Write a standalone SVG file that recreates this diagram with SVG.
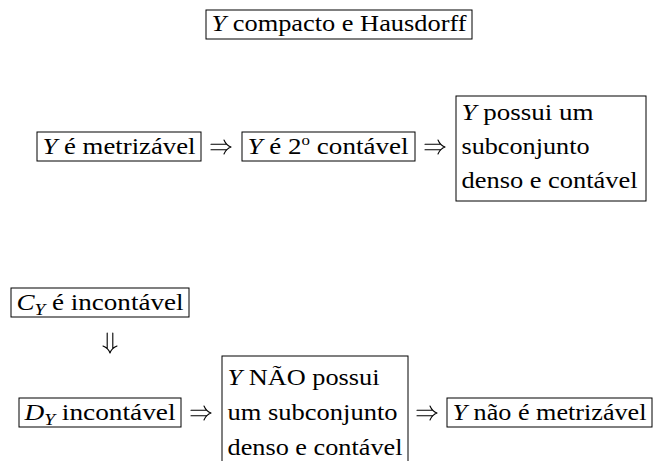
<svg xmlns="http://www.w3.org/2000/svg" xmlns:xlink="http://www.w3.org/1999/xlink" width="656" height="461" viewBox="0 0 656 461">
<style>
.box{fill:none;stroke:#000;stroke-width:1}
.t{font-family:'Liberation Serif','Times New Roman',serif;font-size:24px;fill:#000}
.i{font-style:italic}
.arr{fill:none;stroke:#000;stroke-width:1.1;stroke-linecap:round;stroke-linejoin:round}
</style>
<defs>
<path id="imp" d="M0,-2.8 H15.5 M0,2.8 H15.5 M13,-7 C14.5,-3.5 17,-1 20,0 C17,1 14.5,3.5 13,7"/>
</defs>
<rect width="656" height="461" fill="#fff"/>

<g id="n-compacto">
<rect class="box" x="206" y="10" width="266" height="29"/>
<text class="t" x="211.5" y="31" textLength="255" lengthAdjust="spacingAndGlyphs"><tspan class="i">Y</tspan> compacto e Hausdorff</text>
</g>

<g id="n-metrizavel">
<rect class="box" x="37" y="132" width="164" height="29"/>
<text class="t" x="42.5" y="154" textLength="153" lengthAdjust="spacingAndGlyphs"><tspan class="i">Y</tspan> é metrizável</text>
</g>

<g id="n-segundo">
<rect class="box" x="242" y="132" width="173" height="29"/>
<text class="t" x="247.5" y="154" textLength="161" lengthAdjust="spacingAndGlyphs"><tspan class="i">Y</tspan> é 2<tspan font-size="15" dy="-9">o</tspan><tspan dy="9"> contável</tspan></text>
</g>

<g id="n-denso">
<rect class="box" x="456" y="96" width="190" height="105"/>
<text class="t" x="461.5" y="120" textLength="132" lengthAdjust="spacingAndGlyphs"><tspan class="i">Y</tspan> possui um</text>
<text class="t" x="461.5" y="154" textLength="128" lengthAdjust="spacingAndGlyphs">subconjunto</text>
<text class="t" x="461.5" y="188" textLength="176" lengthAdjust="spacingAndGlyphs">denso e contável</text>
</g>

<g id="n-cy">
<rect class="box" x="11" y="288" width="178" height="29"/>
<text class="t" x="16.5" y="310" textLength="167" lengthAdjust="spacingAndGlyphs"><tspan class="i">C</tspan><tspan class="i" font-size="17" dy="5">Y</tspan><tspan dy="-5"> é incontável</tspan></text>
</g>

<g id="n-dy">
<rect class="box" x="19" y="398" width="162" height="29"/>
<text class="t" x="24.5" y="420" textLength="151" lengthAdjust="spacingAndGlyphs"><tspan class="i">D</tspan><tspan class="i" font-size="17" dy="5">Y</tspan><tspan dy="-5"> incontável</tspan></text>
</g>

<g id="n-nao-denso">
<rect class="box" x="222" y="356" width="186" height="120"/>
<text class="t" x="227.5" y="385" textLength="152" lengthAdjust="spacingAndGlyphs"><tspan class="i">Y</tspan> NÃO possui</text>
<text class="t" x="227.5" y="420" textLength="170" lengthAdjust="spacingAndGlyphs">um subconjunto</text>
<text class="t" x="227.5" y="455" textLength="175" lengthAdjust="spacingAndGlyphs">denso e contável</text>
</g>

<g id="n-nao-metrizavel">
<rect class="box" x="447" y="398" width="205" height="29"/>
<text class="t" x="452.5" y="420" textLength="194" lengthAdjust="spacingAndGlyphs"><tspan class="i">Y</tspan> não é metrizável</text>
</g>

<g id="connectors" class="arr">
<use xlink:href="#imp" transform="translate(211,147)"/>
<use xlink:href="#imp" transform="translate(425,147)"/>
<use xlink:href="#imp" transform="translate(110,333) rotate(90)"/>
<use xlink:href="#imp" transform="translate(191,413)"/>
<use xlink:href="#imp" transform="translate(417,413)"/>
</g>
</svg>
